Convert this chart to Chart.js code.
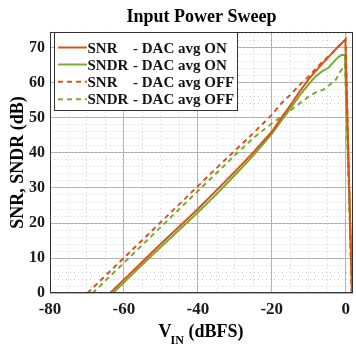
<!DOCTYPE html>
<html><head><meta charset="utf-8">
<script src="https://cdn.jsdelivr.net/npm/chart.js@4.4.0/dist/chart.umd.min.js"></script>
<style>html,body{margin:0;padding:0;background:#fff;overflow:hidden}#wrap{width:356px;height:347px}</style>
</head><body><div id="wrap"><canvas id="c" width="356" height="347"></canvas></div>
<script>
// ---- data ----
const vinSnrOn  = [-63.8, -60, -55, -50, -45, -40, -35, -30, -25, -20, -17.5, -15, -12.5, -10, -8, -5, -2, -0.1, 1.7];
const snrOn     = [0, 3.9, 9, 14.1, 19, 24, 29.3, 34.6, 40.1, 46, 49.8, 53.5, 57.4, 61, 63.4, 66.9, 70.3, 72.2, 0];

const vinSndrOn = [-63, -60, -55, -50, -45, -40, -35, -30, -25, -20, -17.5, -15, -12.5, -10, -8, -6.4, -4.6, -3.5, -2, -1, -0.2, 1.8];
const sndrOn    = [0, 3.1, 8.2, 13.2, 18.1, 23, 28.2, 33.6, 39.2, 45.4, 49, 52.6, 56.3, 59.6, 61.9, 63.2, 64.3, 65.6, 67.3, 67.9, 67.8, 0];

const vinSnrOff = [-69.9, -65, -60, -55, -50, -45, -40, -35, -30, -25, -20, -17.5, -15, -12.5, -10, -7, -3.7, -0.6, 0, 1.6];
const snrOff    = [0, 5, 10.1, 15.2, 20.3, 25.4, 30.5, 35.6, 40.6, 45.6, 50.8, 54, 56.5, 59.3, 61.8, 65.2, 68.4, 71.6, 72.4, 0];

const vinSndrOff = [-68.5, -65, -60, -55, -50, -45, -40, -35, -30, -25, -20, -18, -15, -12.2, -10.4, -8, -6, -4.6, -2.8, -1.5, -0.2, 1.7];
const sndrOff    = [0, 3.6, 8.7, 13.8, 18.9, 24, 29.1, 34.2, 39.3, 44.2, 48.4, 49.8, 52, 54.3, 55.7, 57.3, 58, 59.2, 60.6, 63, 65.2, 0];

const xMajorTicks = [-80, -60, -40, -20, 0];
const yMajorTicks = [0, 10, 20, 30, 40, 50, 60, 70];
const xMinorStep = 5;
const yMinorStep = 2;

const titleText = 'Input Power Sweep';
const yTitleText = 'SNR, SNDR (dB)';
const xTitleMain = 'V';
const xTitleSub = 'IN';
const xTitleRest = ' (dBFS)';
const seriesNames = ['SNR', 'SNDR', 'SNR', 'SNDR'];
const seriesSuffix = ['- DAC avg ON', '- DAC avg ON', '- DAC avg OFF', '- DAC avg OFF'];

// ---- styling ----
const ORANGE = '#D95319';
const GREEN = '#77AC30';
const FONT = "'Liberation Serif', 'Times New Roman', serif";
const toPts = (xs, ys) => xs.map((x, i) => ({x, y: ys[i]}));

const datasets = [
  {label: seriesNames[0], data: toPts(vinSnrOn, snrOn), borderColor: ORANGE, borderDash: []},
  {label: seriesNames[1], data: toPts(vinSndrOn, sndrOn), borderColor: GREEN, borderDash: []},
  {label: seriesNames[2], data: toPts(vinSnrOff, snrOff), borderColor: ORANGE, borderDash: [5, 4]},
  {label: seriesNames[3], data: toPts(vinSndrOff, sndrOff), borderColor: GREEN, borderDash: [5, 4]}
].map(d => Object.assign(d, {borderWidth: 2, pointRadius: 0, tension: 0, fill: false}));

const decor = {
  id: 'decor',
  afterDatasetsDraw(chart) {
    const {ctx, chartArea: a} = chart;
    ctx.save();
    // axes box
    ctx.strokeStyle = '#333';
    ctx.lineWidth = 1;
    ctx.strokeRect(Math.round(a.left) + 0.5, Math.round(a.top) + 0.5,
                   Math.round(a.right) - Math.round(a.left) - 1, Math.round(a.bottom) - Math.round(a.top) - 1);
    // legend
    const lx = 54, ly = 32, lw = 183, lh = 78;
    ctx.fillStyle = '#fff';
    ctx.fillRect(lx, ly, lw, lh);
    ctx.strokeStyle = '#333';
    ctx.strokeRect(lx + 0.5, ly + 0.5, lw, lh);
    const rows = [47.5, 64.5, 81.8, 99.2];
    ctx.font = 'bold 15px ' + FONT;
    ctx.textBaseline = 'alphabetic';
    ctx.textAlign = 'left';
    chart.data.datasets.forEach((ds, i) => {
      const y = rows[i];
      ctx.strokeStyle = ds.borderColor;
      ctx.lineWidth = 2;
      ctx.setLineDash(ds.borderDash);
      ctx.beginPath();
      ctx.moveTo(58, y); ctx.lineTo(87, y);
      ctx.stroke();
      ctx.setLineDash([]);
      ctx.fillStyle = '#111';
      ctx.fillText(seriesNames[i], 87.5, y + 5);
      ctx.fillText(seriesSuffix[i], 133, y + 5);
    });
    ctx.restore();
  },
  afterDraw(chart) {
    const {ctx, chartArea: a} = chart;
    const cx = (a.left + a.right) / 2;
    ctx.save();
    ctx.fillStyle = '#000';
    ctx.textBaseline = 'alphabetic';
    // title
    ctx.font = 'bold 18px ' + FONT;
    ctx.textAlign = 'center';
    ctx.fillText(titleText, cx, 21.7);
    // x title with subscript
    const big = 'bold 18px ' + FONT, small = 'bold 12px ' + FONT;
    ctx.font = big; const w1 = ctx.measureText(xTitleMain).width;
    const w3 = ctx.measureText(xTitleRest).width;
    ctx.font = small; const w2 = ctx.measureText(xTitleSub).width;
    let x0 = cx - (w1 + w2 + w3) / 2;
    ctx.textAlign = 'left';
    ctx.font = big; ctx.fillText(xTitleMain, x0, 336.7);
    ctx.font = small; ctx.fillText(xTitleSub, x0 + w1 - 1, 344);
    ctx.font = big; ctx.fillText(xTitleRest, x0 + w1 + w2 - 1, 336.7);
    // y title
    ctx.translate(22.5, (a.top + a.bottom) / 2);
    ctx.rotate(-Math.PI / 2);
    ctx.textAlign = 'center';
    ctx.font = big;
    ctx.fillText(yTitleText, 0, 0);
    ctx.restore();
  }
};

const isMajX = v => xMajorTicks.includes(v);
const isMajY = v => yMajorTicks.includes(v);

new Chart(document.getElementById('c'), {
  type: 'line',
  data: {datasets},
  plugins: [decor],
  options: {
    responsive: false,
    devicePixelRatio: 1,
    animation: false,
    layout: {padding: {top: 31.7, right: 2, left: 0, bottom: 0}},
    plugins: {legend: {display: false}, title: {display: false}, tooltip: {enabled: false}},
    scales: {
      x: {
        type: 'linear', min: -80, max: 2,
        afterBuildTicks: s => { const t = []; for (let v = -80; v <= 0; v += xMinorStep) t.push({value: v}); s.ticks = t; },
        afterFit: s => { s.height = 53.7; },
        ticks: {autoSkip: false, maxRotation: 0, padding: 6, color: '#1a1a1a',
                font: {family: FONT, size: 17, weight: 'bold'},
                callback: v => isMajX(v) ? String(v) : ''},
        grid: {drawTicks: false, lineWidth: 1,
               color: c => (c.tick && isMajX(c.tick.value)) ? '#b4b4b4' : '#cdcdcd'},
        border: {display: false, dash: c => (c.tick && !isMajX(c.tick.value)) ? [1, 3] : []}
      },
      y: {
        type: 'linear', min: 0, max: 74.5,
        afterBuildTicks: s => { const t = []; for (let v = 0; v <= 74; v += yMinorStep) t.push({value: v}); s.ticks = t; },
        afterFit: s => { s.width = 50; },
        ticks: {autoSkip: false, padding: 5, color: '#1a1a1a',
                font: {family: FONT, size: 16, weight: 'bold'},
                callback: v => isMajY(v) ? String(v) : ''},
        grid: {drawTicks: false, lineWidth: 1,
               color: c => (c.tick && isMajY(c.tick.value)) ? '#b4b4b4' : '#cdcdcd'},
        border: {display: false, dash: c => (c.tick && !isMajY(c.tick.value)) ? [1, 3] : []}
      }
    }
  }
});
</script></body></html>
